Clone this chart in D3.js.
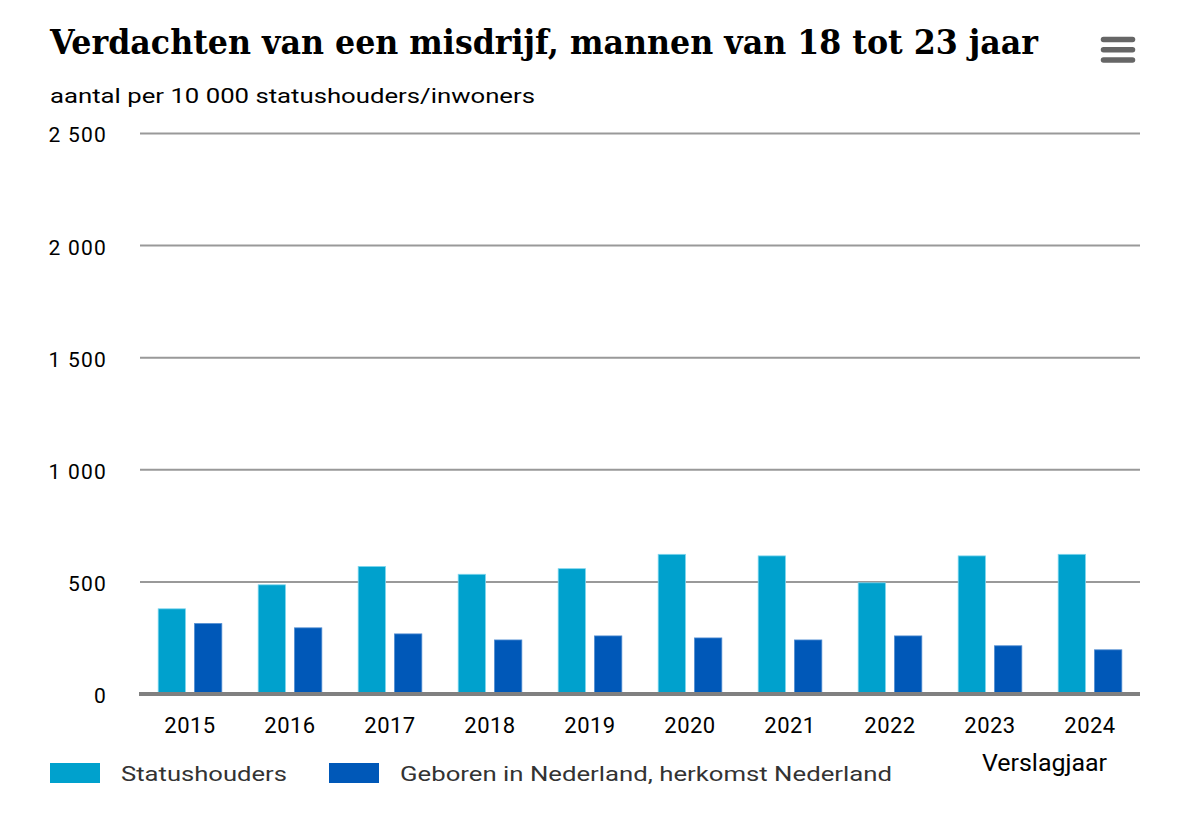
<!DOCTYPE html>
<html><head><meta charset="utf-8">
<script src="https://cdn.jsdelivr.net/npm/d3@7"></script>
<style>
html,body{margin:0;padding:0;background:#fff;}
svg{display:block;}
</style></head>
<body>
<script>
const years = ["2015","2016","2017","2018","2019","2020","2021","2022","2023","2024"];
const statushouders = [380, 487, 569, 534, 559, 623, 616, 496, 616, 623];
const geborenNL = [314, 295, 268, 241, 259, 250, 241, 259, 215, 197];
const seriesNames = ["Statushouders", "Geboren in Nederland, herkomst Nederland"];
const seriesColors = ["#00a1cd", "#0058b8"];
const yTicks = [0, 500, 1000, 1500, 2000, 2500];
const title = "Verdachten van een misdrijf, mannen van 18 tot 23 jaar";
const subtitle = "aantal per 10 000 statushouders/inwoners";
const xTitle = "Verslagjaar";

(function(){
const W = 1195, H = 817;
const svg = d3.select("body").append("svg").attr("width", W).attr("height", H);
const pLeft = 140, pRight = 1140, pTop = 133.5, pBottom = 694;
const FONT = "Roboto, sans-serif";

const x = d3.scaleBand().domain(years).range([pLeft, pRight]).paddingInner(0).paddingOuter(0);
const xs = d3.scaleBand().domain([0,1]).range([0, x.bandwidth()]).paddingInner(0.25).paddingOuter(0.5);
const y = d3.scaleLinear().domain([0, 2500]).range([pBottom, pTop]);

// fit helper: stretch text to a measured width
function fit(sel, w) {
  sel.attr("textLength", w).attr("lengthAdjust", "spacingAndGlyphs");
  return sel;
}

// title
fit(svg.append("text").attr("x", 50).attr("y", 54)
  .attr("font-family", "'DejaVu Serif', serif").attr("font-weight", "bold")
  .style("font-stretch", "condensed")
  .attr("font-size", 34).attr("fill", "#000")
  .text(title), 988);
fit(svg.append("text").attr("x", 50).attr("y", 103)
  .attr("font-family", FONT).attr("font-size", 21).attr("fill", "#000")
  .text(subtitle), 485);

// menu icon
[39.5, 49.7, 60].forEach(cy => {
  svg.append("line").attr("x1", 1103.5).attr("x2", 1132.5).attr("y1", cy).attr("y2", cy)
    .attr("stroke", "#666").attr("stroke-width", 5.5).attr("stroke-linecap", "round");
});

// y axis
const yAxis = d3.axisLeft(y).tickValues(yTicks).tickSize(0)
  .tickFormat(d => d3.format(",")(d).replace(/,/g, " "));
const gy = svg.append("g").attr("transform", `translate(${pLeft-33},0)`).call(yAxis);
gy.select(".domain").remove();
gy.selectAll("text").attr("font-family", FONT).attr("font-size", 21).attr("fill", "#000")
  .attr("x", 0).attr("dy", "0.4em").style("letter-spacing", "1.2px");

svg.append("g").selectAll("line").data(yTicks.filter(d => d > 0)).join("line")
  .attr("x1", pLeft).attr("x2", pRight).attr("y1", d => y(d)).attr("y2", d => y(d))
  .attr("stroke", "#999").attr("stroke-width", 2);

// bars
const data = years.map((yr, i) => ({yr, vals: [statushouders[i], geborenNL[i]]}));
const groups = svg.append("g").selectAll("g").data(data).join("g")
  .attr("transform", d => `translate(${x(d.yr)},0)`);
groups.selectAll("rect").data(d => d.vals.map((v, k) => ({v, k}))).join("rect")
  .attr("x", d => xs(d.k)).attr("width", xs.bandwidth())
  .attr("y", d => y(d.v)).attr("height", d => y(0) - y(d.v))
  .attr("fill", d => seriesColors[d.k])
  .attr("stroke", d => d.k === 0 ? "#7fd6ee" : "#4d8ad0").attr("stroke-width", 0.8);

// baseline
svg.append("line").attr("x1", pLeft - 1).attr("x2", pRight).attr("y1", pBottom).attr("y2", pBottom)
  .attr("stroke", "#808080").attr("stroke-width", 4);

// x axis
const xAxis = d3.axisBottom(x).tickSize(0);
const gx = svg.append("g").attr("transform", `translate(0,${pBottom})`).call(xAxis);
gx.select(".domain").remove();
gx.selectAll("text").attr("font-family", FONT).attr("font-size", 22).attr("fill", "#000")
  .attr("y", 39).attr("dy", null).style("letter-spacing", "0.5px");

fit(svg.append("text").attr("x", 982).attr("y", 771)
  .attr("font-family", FONT).attr("font-size", 23).attr("fill", "#000")
  .text(xTitle), 125);

// legend
const legX = [50, 329];
const legW = [166, 492];
seriesNames.forEach((n, i) => {
  svg.append("rect").attr("x", legX[i]).attr("y", 763).attr("width", 50).attr("height", 20)
    .attr("fill", seriesColors[i]);
  fit(svg.append("text").attr("x", legX[i] + 71).attr("y", 781)
    .attr("font-family", FONT).attr("font-size", 21).attr("fill", "#333")
    .text(n), legW[i]);
});
})();
</script>
</body></html>
